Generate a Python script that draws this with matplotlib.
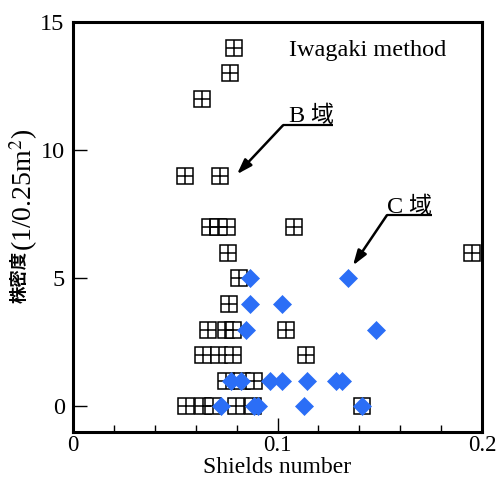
import matplotlib
matplotlib.use("Agg")
import matplotlib.pyplot as plt
from matplotlib.ticker import MultipleLocator

# B-domain (open squares with cross)
b_x = [0.0787, 0.0768, 0.0631, 0.0548, 0.0719,
       0.0670, 0.0711, 0.0753, 0.1080,
       0.0758, 0.1950,
       0.0814,
       0.0765,
       0.0660, 0.0748, 0.0782, 0.1040,
       0.0636, 0.0714, 0.0780, 0.1140,
       0.0748, 0.0826, 0.0885,
       0.0553, 0.0636, 0.0685, 0.0797, 0.0880, 0.1413]
b_y = [14, 13, 12, 9, 9,
       7, 7, 7, 7,
       6, 6,
       5,
       4,
       3, 3, 3, 3,
       2, 2, 2, 2,
       1, 1, 1,
       0, 0, 0, 0, 0, 0]
# C-domain (blue diamonds)
c_x = [0.0866, 0.1345, 0.0866, 0.1020, 0.0844, 0.1480,
       0.0773, 0.0822, 0.0963, 0.1022, 0.1144, 0.1284, 0.1317,
       0.0722, 0.0885, 0.0905, 0.1130, 0.1413]
c_y = [5, 5, 4, 4, 3, 3,
       1, 1, 1, 1, 1, 1, 1,
       0, 0, 0, 0, 0]

xticks = [0, 0.1, 0.2]
xticklabels = ["0", "0.1", "0.2"]
yticks = [0, 5, 10, 15]
yticklabels = ["0", "5", "10", "15"]

SERIF = ["Liberation Serif", "DejaVu Serif"]
CJK = ["Noto Sans CJK JP", "DejaVu Sans"]

fig = plt.figure(figsize=(4.96, 4.80), dpi=100)
ax = fig.add_axes([73/496, 1-432/480, (482-73)/496, (432-22)/480])

ax.plot(b_x, b_y, ls="none", marker="s", ms=12, mfc="white", mec="black", mew=1.1, zorder=2)
ax.plot(b_x, b_y, ls="none", marker="+", ms=12, mec="black", mew=1.1, zorder=2)
ax.plot(c_x, c_y, ls="none", marker="D", ms=8.7, mfc="#2b6ef6", mec="#2b6ef6", mew=0.5, zorder=3)

ax.set_xlim(0, 0.2)
ax.set_ylim(-1, 15)
ax.set_xticks(xticks)
ax.set_xticklabels(xticklabels, fontfamily=SERIF, fontsize=16.5)
ax.set_yticks(yticks)
ax.set_yticklabels(yticklabels, fontfamily=SERIF, fontsize=17.5)
ax.xaxis.set_minor_locator(MultipleLocator(0.02))
ax.tick_params(axis="x", which="major", direction="in", length=10, width=1, top=False, pad=2)
ax.tick_params(axis="x", which="minor", direction="in", length=5, width=1, top=False)
ax.tick_params(axis="y", which="major", direction="in", length=10, width=1, right=False, pad=6)
for s in ax.spines.values():
    s.set_linewidth(2.2)

ax.set_xlabel("Shields number", fontfamily=SERIF, fontsize=17, labelpad=1)

# y label: CJK part bold sans, rest serif
fig.text(20/496, 1-251/480, "株密度", rotation=90, ha="center", va="top",
         fontfamily=CJK, fontweight="bold", fontsize=12.5)
fig.text(24/496, 1-251/480, "(1/0.25m$^2$)", rotation=90, ha="center", va="bottom",
         fontfamily=SERIF, fontsize=20, math_fontfamily="stix")

ax.text(0.527, 0.93, "Iwagaki method", transform=ax.transAxes, ha="left", va="center",
        fontfamily=SERIF, fontsize=17.5)

# annotations
ax.text(0.1051, 11.1, "B", fontfamily=SERIF, fontsize=17.5, ha="left", va="baseline")
ax.text(0.1159, 11.1, "域", fontfamily=CJK, fontsize=16.5, ha="left", va="baseline")
ax.plot([0.1027, 0.1271], [10.97, 10.97], color="black", lw=1.6, solid_capstyle="butt")
ax.annotate("", xy=(0.0802, 9.06), xytext=(0.1027, 10.97),
            arrowprops=dict(arrowstyle="-|>,head_length=0.9,head_width=0.3", color="black",
                            lw=1.8, shrinkA=0, shrinkB=0))

ax.text(0.1535, 7.55, "C", fontfamily=SERIF, fontsize=17.5, ha="left", va="baseline")
ax.text(0.1637, 7.55, "域", fontfamily=CJK, fontsize=16.5, ha="left", va="baseline")
ax.plot([0.1535, 0.1757], [7.46, 7.46], color="black", lw=1.6, solid_capstyle="butt")
ax.annotate("", xy=(0.1369, 5.5), xytext=(0.1535, 7.46),
            arrowprops=dict(arrowstyle="-|>,head_length=0.9,head_width=0.3", color="black",
                            lw=1.8, shrinkA=0, shrinkB=0))

fig.savefig("out.png", dpi=100)
